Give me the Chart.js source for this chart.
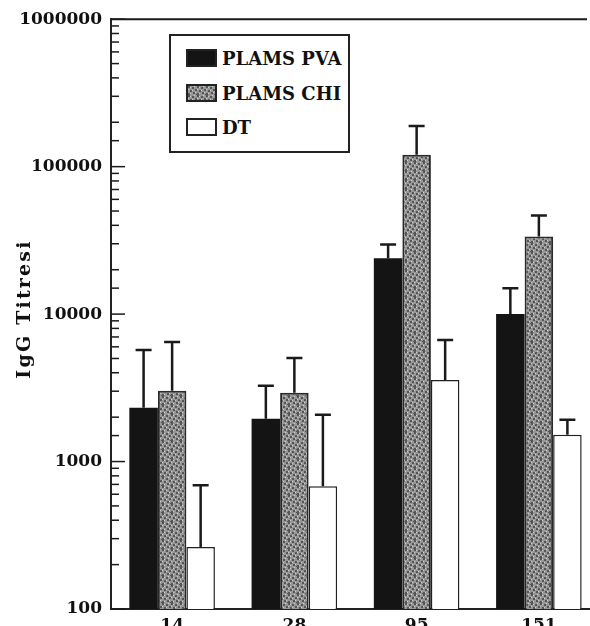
<!DOCTYPE html>
<html>
<head>
<meta charset="utf-8">
<script src="https://cdn.jsdelivr.net/npm/chart.js@4.4.1/dist/chart.umd.min.js"></script>
<style>
    html, body { margin: 0; padding: 0; background: #fff; overflow: hidden; }
    #wrap { position: relative; width: 600px; height: 640px; }
    #legend {
        position: absolute; left: 169px; top: 34px; width: 177px; height: 115px;
        border: 2px solid #222; background: #fff;
        font: bold 18px "DejaVu Serif"; color: #111;
    }
    .item { position: absolute; left: 15px; height: 20px; display: flex; align-items: center; white-space: nowrap; }
    .sw { width: 31px; height: 18px; margin-right: 5px; box-sizing: border-box; border: 2px solid #222; }
    #ytitle {
        position: absolute; left: -78px; top: 299px; width: 200px; height: 20px; line-height: 20px;
        text-align: center; transform: rotate(-90deg);
        font: bold 19px "DejaVu Serif"; letter-spacing: 2.2px; color: #111;
    }
</style>
</head>
<body>
<div id="wrap">
    <canvas id="igg-chart"></canvas>
    <div id="ytitle">IgG Titresi</div>
    <div id="legend">
        <div class="item" style="top: 12px;"><span class="sw" style="background: #141414;"></span><span>PLAMS PVA</span></div>
        <div class="item" style="top: 47px;"><span class="sw" id="sw-chi"></span><span>PLAMS CHI</span></div>
        <div class="item" style="top: 81px;"><span class="sw" style="background: #fff;"></span><span>DT</span></div>
    </div>
</div>
<script>
// gün (days)
const categories = ["14", "28", "95", "151"];

// ortalama titre
const pvaValues = [2320, 1950, 23900, 10000];
const chiValues = [3020, 2930, 120500, 33600];
const dtValues = [263, 680, 3580, 1520];

// hata çubuğu üst ucu (ortalama + SD)
const pvaUpper = [5710, 3270, 29700, 15000];
const chiUpper = [6460, 5040, 189000, 46700];
const dtUpper = [690, 2080, 6670, 1920];

const yTickLabels = [100, 1000, 10000, 100000, 1000000];

function isLabelTick(v) {
    return yTickLabels.some((t) => Math.abs(t - v) / t < 1e-6);
}

// gri noktalı doku
function makeGrain() {
    const c = document.createElement("canvas");
    c.width = 9;
    c.height = 9;
    const g = c.getContext("2d");
    g.fillStyle = "#979797";
    g.fillRect(0, 0, 9, 9);
    g.fillStyle = "#555555";
    [[0, 0], [4, 1], [7, 3], [2, 4], [5, 6], [0, 7], [8, 8]].forEach(([x, y]) => g.fillRect(x, y, 2, 2));
    g.fillStyle = "#cfcfcf";
    [[2, 1], [6, 0], [0, 3], [4, 4], [7, 6], [2, 7]].forEach(([x, y]) => g.fillRect(x, y, 1, 1));
    return c;
}
const grain = makeGrain();
document.getElementById("sw-chi").style.background = "url(" + grain.toDataURL() + ")";

const ctx = document.getElementById("igg-chart");
const grainPattern = ctx.getContext("2d").createPattern(grain, "repeat");

const extrasPlugin = {
    id: "extras",
    afterDatasetsDraw(chart) {
        const { ctx, chartArea, scales } = chart;
        const y = scales.y;
        ctx.save();
        ctx.strokeStyle = "#1a1a1a";

        // hata çubukları
        ctx.lineWidth = 2.5;
        [pvaUpper, chiUpper, dtUpper].forEach((tops, di) => {
            const meta = chart.getDatasetMeta(di);
            meta.data.forEach((bar, i) => {
                const yTop = y.getPixelForValue(tops[i]);
                ctx.beginPath();
                ctx.moveTo(bar.x, bar.y);
                ctx.lineTo(bar.x, yTop);
                ctx.moveTo(bar.x - 8, yTop);
                ctx.lineTo(bar.x + 8, yTop);
                ctx.stroke();
            });
        });

        // içe dönük eksen çentikleri
        ctx.lineWidth = 1.5;
        y.ticks.forEach((t) => {
            const py = y.getPixelForValue(t.value);
            ctx.beginPath();
            ctx.moveTo(chartArea.left, py);
            ctx.lineTo(chartArea.left + (isLabelTick(t.value) ? 14 : 8), py);
            ctx.stroke();
        });

        // üst çizgi
        ctx.lineWidth = 2;
        ctx.beginPath();
        ctx.moveTo(chartArea.left, chartArea.top);
        ctx.lineTo(chartArea.right - 13, chartArea.top);
        ctx.stroke();
        ctx.restore();
    },
};

const tickFont = { family: "DejaVu Serif", weight: "bold", size: 17 };

new Chart(ctx, {
    type: "bar",
    data: {
        labels: categories,
        datasets: [
            { label: "PLAMS PVA", data: pvaValues, backgroundColor: "#141414", borderColor: "#141414", borderWidth: 0 },
            { label: "PLAMS CHI", data: chiValues, backgroundColor: grainPattern, borderColor: "#2a2a2a", borderWidth: 2 },
            { label: "DT", data: dtValues, backgroundColor: "#ffffff", borderColor: "#222", borderWidth: 1.5 },
        ],
    },
    options: {
        responsive: true,
        maintainAspectRatio: false,
        animation: false,
        layout: { padding: { top: 17, left: 0, right: 0, bottom: 0 } },
        datasets: { bar: { categoryPercentage: 0.7, barPercentage: 1.0 } },
        plugins: {
            legend: { display: false },
            tooltip: { enabled: false },
        },
        scales: {
            x: {
                grid: { display: false, drawTicks: false },
                border: { display: true, color: "#222", width: 2 },
                ticks: { font: tickFont, color: "#111", padding: 6, maxRotation: 0 },
                afterFit(scale) { scale.height = 31; },
            },
            y: {
                type: "logarithmic",
                min: 100,
                max: 1000000,
                grid: { display: false, drawTicks: false },
                border: { display: true, color: "#222", width: 2 },
                ticks: {
                    autoSkip: false,
                    font: tickFont,
                    color: "#111",
                    padding: 9,
                    callback: (v) => (isLabelTick(v) ? String(Math.round(v)) : ""),
                },
                afterFit(scale) { scale.width = 111; },
            },
        },
    },
    plugins: [extrasPlugin],
});
</script>
</body>
</html>
